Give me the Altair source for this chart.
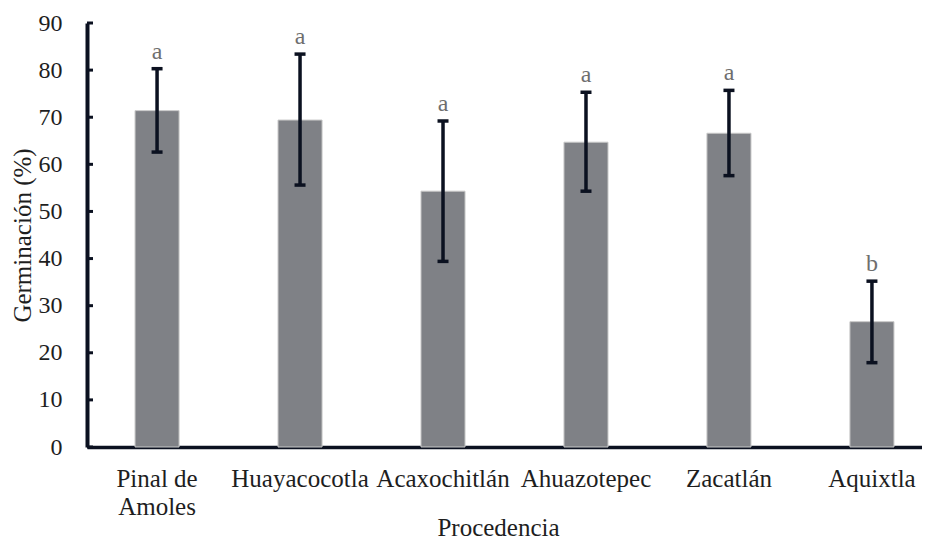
import altair as alt
import pandas as pd

categories = ["Pinal de Amoles", "Huayacocotla", "Acaxochitlán", "Ahuazotepec", "Zacatlán", "Aquixtla"]
means = [71.4, 69.4, 54.3, 64.7, 66.6, 26.6]
upper = [80.3, 83.4, 69.2, 75.3, 75.7, 35.2]
lower = [62.6, 55.6, 39.4, 54.3, 57.6, 17.9]
letters = ["a", "a", "a", "a", "a", "b"]
yticks = [0, 10, 20, 30, 40, 50, 60, 70, 80, 90]

df = pd.DataFrame({"cat": categories, "mean": means, "hi": upper, "lo": lower, "let": letters})
tick_df = pd.DataFrame({"v": yticks})

FONT = "Liberation Serif"
AX = "#0b1120"
TXT = "#1e1e1e"

xscale = alt.Scale(domain=categories, range=[0, 855], paddingInner=0.692, paddingOuter=0.336)
yscale = alt.Scale(domain=[0, 90], nice=False, zero=True)

x_axis = alt.Axis(
    title="Procedencia", labelAngle=0, ticks=False,
    labelExpr="datum.value == 'Pinal de Amoles' ? ['Pinal de', 'Amoles'] : datum.label",
    labelFont=FONT, labelFontSize=25, labelColor=TXT, labelLineHeight=28, labelPadding=19,
    labelBaseline="top",
    domainColor=AX, domainWidth=3.5,
    titleFont=FONT, titleFontSize=25, titleFontWeight="normal", titleColor=TXT,
    titleX=411, titleY=88, titleBaseline="alphabetic", titleAnchor="middle", titleAlign="center",
)
y_axis = alt.Axis(
    title="Germinación (%)", values=yticks, ticks=False, grid=False,
    labelFont=FONT, labelFontSize=24, labelColor=TXT, labelPadding=25,
    domainColor=AX, domainWidth=4,
    titleFont=FONT, titleFontSize=25, titleFontWeight="normal", titleColor=TXT, titlePadding=3,
)

base = alt.Chart(df)
X = alt.X("cat:N", sort=categories, scale=xscale, axis=x_axis)


def Y(field):
    return alt.Y(field, scale=yscale, axis=y_axis)


bars = base.mark_bar(color="#7f8186", stroke="#c8c8c8", strokeWidth=1).encode(x=X, y=Y("mean:Q"))
err = base.mark_rule(color=AX, strokeWidth=3.5).encode(x=X, y=Y("lo:Q"), y2="hi:Q")
cap_hi = base.mark_tick(color=AX, size=11, thickness=3.5, opacity=1).encode(x=X, y=Y("hi:Q"))
cap_lo = base.mark_tick(color=AX, size=11, thickness=3.5, opacity=1).encode(x=X, y=Y("lo:Q"))
labels = base.mark_text(font=FONT, fontSize=24, color="#6e6e6e", baseline="bottom", dy=-5).encode(
    x=X, y=Y("hi:Q"), text="let:N"
)
yt = alt.Chart(tick_df).mark_rule(color=AX, strokeWidth=3).encode(
    y=Y("v:Q"), x=alt.value(0), x2=alt.value(6),
)

chart = alt.layer(bars, err, cap_hi, cap_lo, labels, yt).properties(
    width=835, height=424,
    autosize=alt.AutoSizeParams(type="none"),
    padding={"left": 79, "top": 15, "right": 0, "bottom": 96},
    background="white",
).configure_view(stroke=None)

chart.save("out.html", embed_options={"renderer": "svg", "actions": False})
